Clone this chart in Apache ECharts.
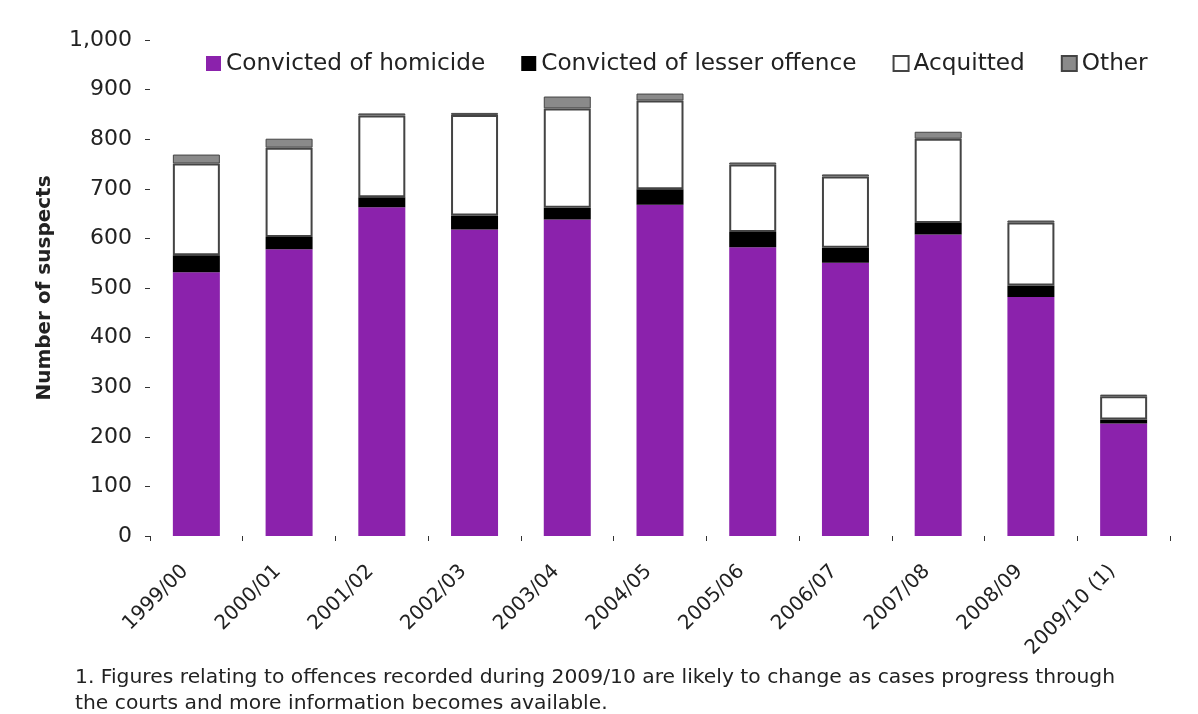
<!DOCTYPE html>
<html>
<head>
<meta charset="utf-8">
<script src="https://cdn.jsdelivr.net/npm/echarts@6/dist/echarts.min.js"></script>
<style>
html,body{margin:0;padding:0;background:#fff;}
#chart{width:1198px;height:714px;}
</style>
</head>
<body>
<div id="chart"></div>
<script>
const categories = ['1999/00','2000/01','2001/02','2002/03','2003/04','2004/05','2005/06','2006/07','2007/08','2008/09','2009/10 (1)'];
const homicide  = [532, 578, 663, 618, 638, 668, 582, 551, 608, 482, 227];
const lesser    = [34, 25, 20, 28, 24, 31, 31, 30, 23, 23, 8];
const acquitted = [185, 180, 165, 203, 200, 179, 136, 144, 170, 127, 47];
const other     = [18, 18, 4, 4, 24, 14, 4, 4, 14, 4, 3];
const seriesNames = ['Convicted of homicide','Convicted of lesser offence','Acquitted','Other'];
const footnote = ['1. Figures relating to offences recorded during 2009/10 are likely to change as cases progress through',
                  'the courts and more information becomes available.'];

const FONT = 'DejaVu Sans';
const chart = echarts.init(document.getElementById('chart'));
const barW = 47;
chart.setOption({
  backgroundColor: '#ffffff',
  animation: false,
  textStyle: {fontFamily: FONT, color: '#222'},
  legend: {
    left: 201, top: 47,
    icon: 'rect',
    itemWidth: 15, itemHeight: 15, itemGap: 36,
    textStyle: {fontFamily: FONT, fontSize: 23.2, color: '#222'},
    data: seriesNames
  },
  grid: {left: 150, right: 28, top: 40, bottom: 178, containLabel: false},
  xAxis: {
    type: 'category',
    data: categories,
    axisLine: {show: false},
    axisTick: {show: true, length: 5, lineStyle: {color: '#333'}},
    axisLabel: {rotate: 45, margin: 21, padding: [0, 16, 0, 0], fontFamily: FONT, fontSize: 20, color: '#222', interval: 0}
  },
  yAxis: {
    type: 'value', min: 0, max: 1000, interval: 100,
    name: 'Number of suspects', nameLocation: 'middle', nameGap: 95, nameRotate: 90,
    nameTextStyle: {fontFamily: FONT, fontSize: 20, fontWeight: 'bold', color: '#222'},
    axisLine: {show: false},
    axisTick: {show: true, length: 5, lineStyle: {color: '#333'}},
    splitLine: {show: false},
    axisLabel: {margin: 18, fontFamily: FONT, fontSize: 22, color: '#222',
      formatter: v => v.toLocaleString('en-GB')}
  },
  series: [
    {name: seriesNames[0], type: 'bar', stack: 's', barWidth: barW, data: homicide,
     itemStyle: {color: '#8B22AC'}},
    {name: seriesNames[1], type: 'bar', stack: 's', barWidth: barW, data: lesser,
     itemStyle: {color: '#000000'}},
    {name: seriesNames[2], type: 'bar', stack: 's', barWidth: barW, data: acquitted,
     itemStyle: {color: '#ffffff', borderColor: '#444', borderWidth: 2}},
    {name: seriesNames[3], type: 'bar', stack: 's', barWidth: barW, data: other,
     itemStyle: {color: '#8a8a8a', borderColor: '#444', borderWidth: 1}}
  ],
  graphic: [
    {type: 'text', left: 75, top: 668, style: {text: footnote[0], font: '20.3px "DejaVu Sans"', fill: '#222'}},
    {type: 'text', left: 75, top: 694, style: {text: footnote[1], font: '20.3px "DejaVu Sans"', fill: '#222'}}
  ]
});
</script>
</body>
</html>
